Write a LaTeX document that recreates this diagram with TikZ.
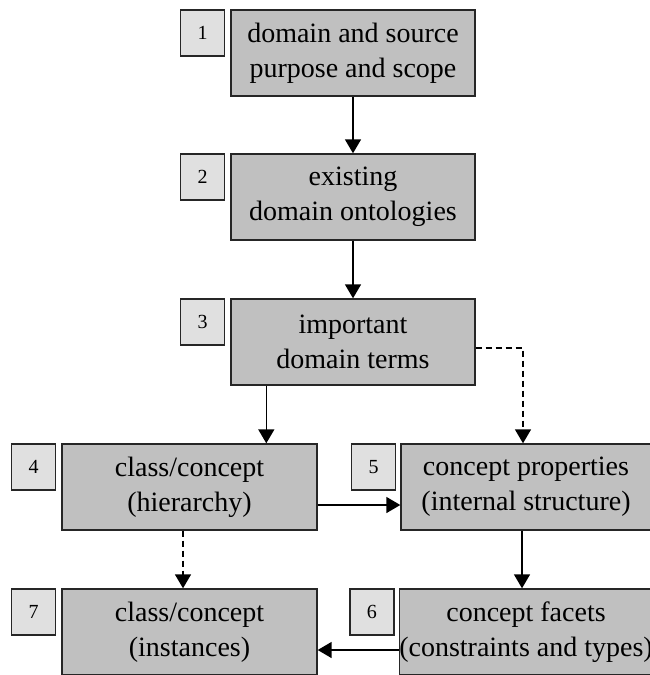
\documentclass[tikz,border=0pt]{standalone}
\usepackage{fontspec}
\setmainfont{Liberation Serif}
\usepackage{xcolor}
\usepackage{tikz}
\usetikzlibrary{arrows.meta}
\definecolor{boxgray}{RGB}{192,192,192}
\definecolor{numgray}{RGB}{224,224,224}
\tikzset{>={Triangle[width=16pt,length=14pt]}}
\tikzset{%
    stepbox/.style={%
        draw=black!85, line width=1.4pt, fill=boxgray,
        minimum width=#1, minimum height=86pt, inner sep=0pt,
        align=center, font=\fontsize{28}{35}\selectfont
    },
    numbox/.style={%
        draw=black!85, line width=1.4pt, fill=numgray,
        minimum width=44pt, minimum height=46pt, inner sep=0pt,
        anchor=north east, font=\fontsize{20}{24}\selectfont
    },
    flow/.style={->, line width=1.6pt},
    maybe/.style={->, line width=1.6pt, dash pattern=on 6pt off 4pt}
}

\begin{document}
\begin{tikzpicture}[x=1pt,y=-1pt]
\useasboundingbox (0,0) rectangle (650,675);
\clip (0,0) rectangle (650,675);

\node[stepbox=244pt] (s1) at (353,53) {domain and source\\purpose and scope};
\node[stepbox=244pt] (s2) at (353,197) {existing\\domain ontologies};
\node[stepbox=244pt] (s3) at (353,342) {important\\domain terms};
\node[stepbox=255pt] (s4) at (189.5,487) {class/concept\\(hierarchy)};
\node[stepbox=250pt] (s5) at (526,487) {concept properties\\(internal structure)};
\node[stepbox=250pt] (s6) at (526,632) {concept facets\\(constraints and types)};
\node[stepbox=255pt] (s7) at (189.5,632) {class/concept\\(instances)};

\node[numbox] (n1) at ([xshift=-5pt]s1.north west) {1};
\node[numbox] (n2) at ([xshift=-5pt]s2.north west) {2};
\node[numbox] (n3) at ([xshift=-5pt]s3.north west) {3};
\node[numbox] (n4) at ([xshift=-5pt]s4.north west) {4};
\node[numbox] (n5) at ([xshift=-4pt]s5.north west) {5};
\node[numbox] (n6) at ([xshift=-4pt]s6.north west) {6};
\node[numbox] (n7) at ([xshift=-5pt]s7.north west) {7};

\draw[flow] (s1.south) -- (s2.north);
\draw[flow] (s2.south) -- (s3.north);
\draw[flow] ([xshift=36pt]s3.south west) -- ([xshift=36pt]s3.south west |- s4.north);
\draw[maybe] ([yshift=-6pt]s3.east) -| ([xshift=-3pt]s5.north);
\draw[flow] ([yshift=-18pt]s4.east) -- ([yshift=-18pt]s4.east -| s5.west);
\draw[maybe] ([xshift=-6.5pt]s4.south) -- ([xshift=-6.5pt]s7.north);
\draw[flow] ([xshift=-4pt]s5.south) -- ([xshift=-4pt]s5.south |- s6.north);
\draw[flow] ([yshift=-18pt]s6.west) -- ([yshift=-18pt]s6.west -| s7.east);
\end{tikzpicture}
\end{document}
